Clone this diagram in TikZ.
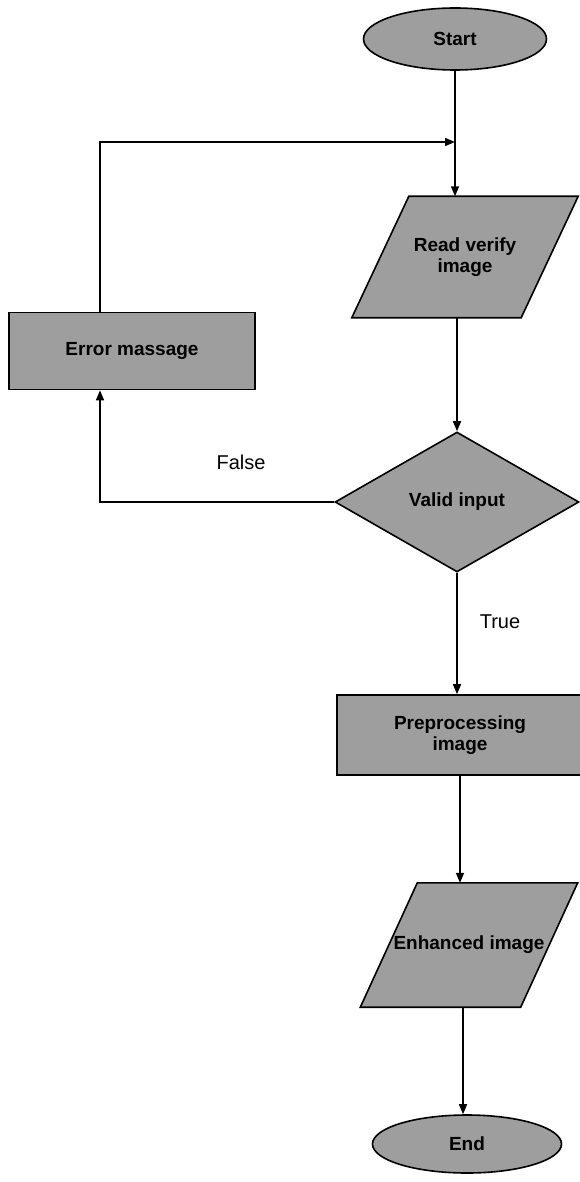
\documentclass[tikz,border=0pt]{standalone}
\usepackage{fontspec}
\setmainfont{Liberation Sans}
\usetikzlibrary{shapes.geometric,arrows.meta,backgrounds}
\begin{document}
\begin{tikzpicture}[x=1pt,y=-1pt,
  every node/.style={font=\fontsize{20}{22}\selectfont, align=center, inner sep=0pt},
  shade/.style={draw=black, line width=1.6pt, fill=black!38,
                font=\fontsize{19}{21}\selectfont\bfseries},
  terminal/.style={shade, ellipse},
  procbox/.style={shade, rectangle},
  iobody/.style={rectangle, font=\fontsize{19}{21}\selectfont\bfseries},
  decision/.style={shade, diamond},
  flow/.style={line width=1.6pt, -{Triangle[length=10pt,width=8pt]}}]
\useasboundingbox (0,0) rectangle (579,1182);

% nodes
\node[terminal, minimum width=183pt, minimum height=62pt] (start) at (455,39) {Start};
\node[iobody, minimum width=169pt, minimum height=121pt] (read) at (465,257) {Read verify\\image};
\node[procbox, minimum width=246pt, minimum height=77pt] (error) at (132,351) {Error massage};
\node[decision, minimum width=244pt, minimum height=140pt, aspect=1.74] (valid) at (457,502) {Valid input};
\node[procbox, minimum width=246pt, minimum height=80pt] (prep) at (460,735) {Preprocessing\\image};
\node[iobody, minimum width=160pt, minimum height=124pt] (enh) at (469,945) {Enhanced image};
\node[terminal, minimum width=189pt, minimum height=58pt] (end) at (467,1144) {End};

% slanted input/output boxes behind their text
\begin{scope}[on background layer]
  \foreach \n/\s in {read/28.5, enh/28.5}{
    \draw[shade] ([xshift=\s pt]\n.north west) -- ([xshift=\s pt]\n.north east)
      -- ([xshift=-\s pt]\n.south east) -- ([xshift=-\s pt]\n.south west) -- cycle;
  }
\end{scope}

% branch labels
\node (false) at (241,462) {False};
\node (true) at (500,622) {True};

% loop corner and junction on the main line
\coordinate (lc) at (100,142);
\coordinate (jn) at (455,142);

% connectors
\draw[flow] (start.south) -- (start.south |- read.north);
\draw[flow] (error.north -| lc) -- (lc) -- (jn);
\draw[flow] (read.south -| valid.north) -- (valid.north);
\draw[flow] (valid.west) -| (error.south -| lc);
\draw[flow] (valid.south) -- (valid.south |- prep.north);
\draw[flow] (prep.south) -- (prep.south |- enh.north);
\draw[flow] (enh.south -| 463,0) -- (end.north -| 463,0);
\end{tikzpicture}
\end{document}
